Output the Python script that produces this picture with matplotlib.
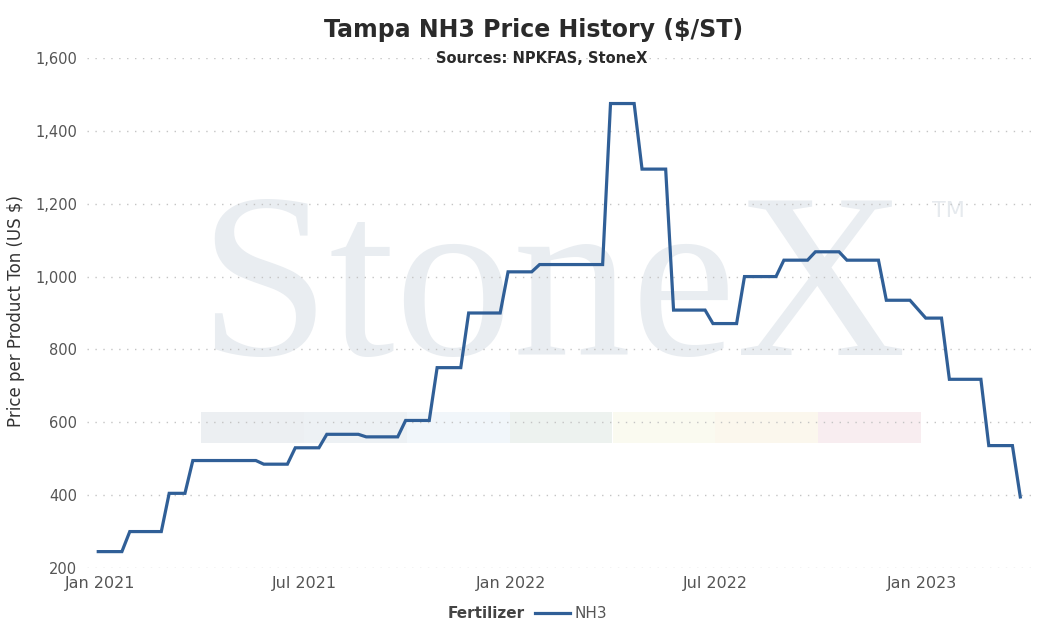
import matplotlib
matplotlib.use("Agg")
import matplotlib.pyplot as plt
from matplotlib.patches import Rectangle
import pandas as pd

# Tampa NH3 weekly (Wednesday) prices, $/ST -- only the weeks where the line turns
dates = ["2020-12-30", "2021-01-20", "2021-01-27", "2021-02-24", "2021-03-03",
         "2021-03-17", "2021-03-24", "2021-05-19", "2021-05-26", "2021-06-16",
         "2021-06-23", "2021-07-14", "2021-07-21", "2021-08-18", "2021-08-25",
         "2021-09-22", "2021-09-29", "2021-10-20", "2021-10-27", "2021-11-17",
         "2021-11-24", "2021-12-22", "2021-12-29", "2022-01-19", "2022-01-26",
         "2022-03-23", "2022-03-30", "2022-04-20", "2022-04-27", "2022-05-18",
         "2022-05-25", "2022-06-22", "2022-06-29", "2022-07-20", "2022-07-27",
         "2022-08-24", "2022-08-31", "2022-09-21", "2022-09-28", "2022-10-19",
         "2022-10-26", "2022-11-23", "2022-11-30", "2022-12-21", "2023-01-04",
         "2023-01-18", "2023-01-25", "2023-02-22", "2023-03-01", "2023-03-22",
         "2023-03-29"]
nh3 = [245, 245, 300, 300, 405,
       405, 495, 495, 485, 485,
       530, 530, 567, 567, 560,
       560, 605, 605, 750, 750,
       900, 900, 1013, 1013, 1033,
       1033, 1475, 1475, 1295, 1295,
       908, 908, 871, 871, 1000,
       1000, 1045, 1045, 1068, 1068,
       1045, 1045, 935, 935, 886,
       886, 718, 718, 536, 536,
       395]

tick_dates = ["2021-01-01", "2021-07-01", "2022-01-01", "2022-07-01", "2023-01-01"]
tick_labels = ["Jan 2021", "Jul 2021", "Jan 2022", "Jul 2022", "Jan 2023"]
y_ticks = [200, 400, 600, 800, 1000, 1200, 1400, 1600]

W, H = 1054, 631
line_col = "#305f97"
wm_col = "#e9edf1"

fig = plt.figure(figsize=(W / 100, H / 100), dpi=100)
ax = fig.add_axes([87 / W, 1 - 568 / H, (1031 - 87) / W, (568 - 58) / H])
ax.patch.set_alpha(0)

# watermark behind the axes
fig.text(198 / W, 1 - 355 / H, "StoneX", fontfamily="Liberation Serif", fontsize=170,
         color=wm_col, ha="left", va="baseline", zorder=-2)
fig.text(932 / W, 1 - 217 / H, "TM", fontsize=16, color="#e6eaee",
         ha="left", va="baseline", zorder=-2)
band_cols = ["#eceff2", "#edf1f4", "#f1f6fa", "#edf2ef", "#fafaf0", "#fbf7ed", "#f8edf0"]
for i, c in enumerate(band_cols):
    fig.add_artist(Rectangle(((201.3 + i * 102.8) / W, 1 - 442.7 / H), 102.8 / W, 31 / H,
                             transform=fig.transFigure, facecolor=c, edgecolor="none", zorder=-3))

x = pd.to_datetime(dates)
line, = ax.plot(x, nh3, color=line_col, lw=2.3, solid_joinstyle="miter", zorder=3)

ax.set_xlim(pd.Timestamp("2020-12-20"), pd.Timestamp("2023-04-07 12:00"))
ax.set_ylim(200, 1600)
ax.set_yticks(y_ticks)
ax.set_yticklabels([f"{v:,}" for v in y_ticks])
ax.set_xticks(pd.to_datetime(tick_dates))
ax.set_xticklabels(tick_labels)
ax.yaxis.grid(True, color="#c4c4c4", linestyle=(0, (1, 4.7)), linewidth=1)
ax.xaxis.grid(False)
for s in ax.spines.values():
    s.set_visible(False)
ax.tick_params(axis="y", length=0, pad=7, labelsize=10.5, labelcolor="#555555")
ax.tick_params(axis="x", length=0, pad=6, labelsize=11.5, labelcolor="#555555")

fig.text(16 / W, 1 - 311 / H, "Price per Product Ton (US $)", rotation=90,
         ha="center", va="center", fontsize=12, color="#333333")
fig.text(534 / W, 1 - 37 / H, "Tampa NH3 Price History ($/ST)", ha="center",
         va="baseline", fontsize=17, fontweight="bold", color="#2a2a2a")
fig.text(542 / W, 1 - 63 / H, "Sources: NPKFAS, StoneX", ha="center",
         va="baseline", fontsize=10.5, fontweight="bold", color="#2a2a2a")

fig.text(448 / W, 1 - 614 / H, "Fertilizer", ha="left", va="center",
         fontsize=11, fontweight="bold", color="#444444")
fig.legend(handles=[line], labels=["NH3"], loc="center left",
           bbox_to_anchor=(535 / W, 1 - 614 / H), frameon=False, fontsize=11,
           labelcolor="#555555", handlelength=2.3, handletextpad=0.3,
           borderpad=0, borderaxespad=0)

fig.savefig("out.png", dpi=100)
